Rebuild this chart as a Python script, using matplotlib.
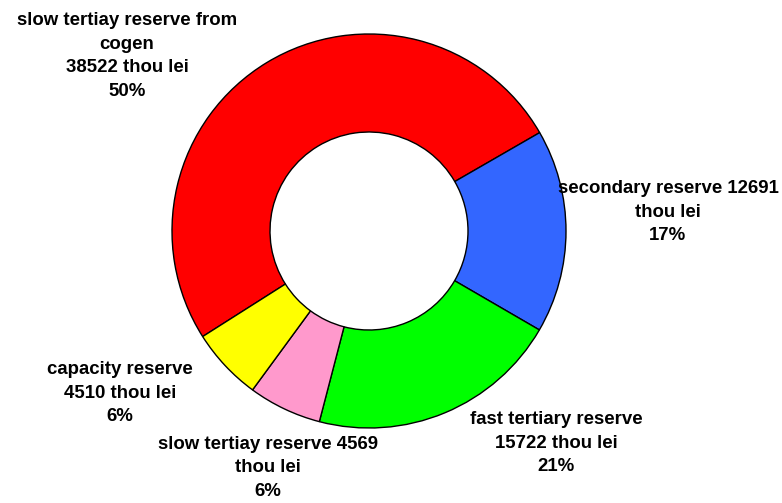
import matplotlib.pyplot as plt

names = ["slow tertiay reserve from\ncogen", "secondary reserve", "fast tertiary reserve",
         "slow tertiay reserve", "capacity reserve"]
values = [38522, 12691, 15722, 4569, 4510]
percents = [50, 17, 21, 6, 6]
colors = ["#FF0000", "#3366FF", "#00FF00", "#FF99CC", "#FFFF00"]

# label text layout (line breaks as in the original)
label_fmt = ["{n}\n{v} thou lei\n{p}%",
             "{n} {v}\nthou lei\n{p}%",
             "{n}\n{v} thou lei\n{p}%",
             "{n} {v}\nthou lei\n{p}%",
             "{n}\n{v} thou lei\n{p}%"]
label_pos = [(127, 56), (668, 212), (556, 443), (268, 468), (120, 393)]

fig = plt.figure(figsize=(7.82, 5.03), dpi=100)
ax = fig.add_axes([0, 0, 1, 1])
H = 503

ax.pie(values, colors=colors, startangle=212.4, counterclock=False,
       center=(369, H - 231), radius=197,
       wedgeprops=dict(width=98, edgecolor="black", linewidth=1))

for fmt, n, v, p, (x, y) in zip(label_fmt, names, values, percents, label_pos):
    ax.text(x, H - y, fmt.format(n=n, v=v, p=p), ha="center", va="center",
            fontsize=13.4, fontweight="bold", family="Liberation Sans",
            linespacing=1.5)

ax.set_xlim(0, 782)
ax.set_ylim(0, H)
ax.set_aspect("auto")
ax.axis("off")
fig.savefig("out.png", dpi=100)
